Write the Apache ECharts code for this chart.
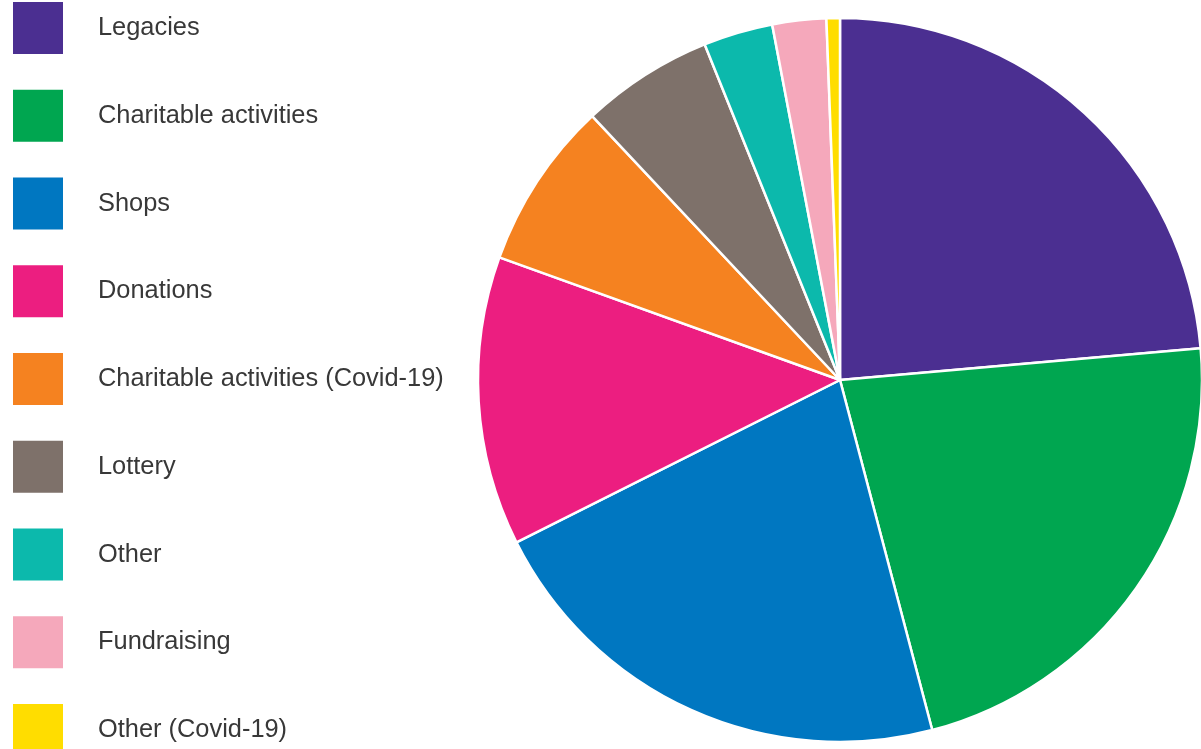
<!DOCTYPE html>
<html>
<head>
<meta charset="utf-8">
<script src="https://cdn.jsdelivr.net/npm/echarts@6/dist/echarts.min.js"></script>
<style>
html,body{margin:0;padding:0;background:#fff;}
#chart{width:1201px;height:749px;}
</style>
</head>
<body>
<div id="chart"></div>
<script>
var categories = ["Legacies","Charitable activities","Shops","Donations","Charitable activities (Covid-19)","Lottery","Other","Fundraising","Other (Covid-19)"];
var values = [23.6, 22.3, 21.7, 12.9, 7.5, 5.9, 3.1, 2.4, 0.6];
var colors = ["#4B2F91","#00A650","#0077C1","#EC1E80","#F58220","#7E716A","#0CB9AC","#F5A8BB","#FFDD00"];

var chart = echarts.init(document.getElementById('chart'), null, {renderer:'canvas'});
chart.setOption({
  animation: false,
  backgroundColor: '#ffffff',
  color: colors,
  legend: {
    orient: 'vertical',
    left: 13,
    top: 2,
    padding: 0,
    width: 600,
    height: 760,
    itemWidth: 50,
    itemHeight: 52,
    itemGap: 35.75,
    icon: 'rect',
    selectedMode: false,
    itemStyle: {borderWidth: 0},
    data: categories,
    textStyle: {
      fontFamily: 'Liberation Sans, Arial, sans-serif',
      fontSize: 25.4,
      color: '#383838',
      padding: [8,0,0,30]
    }
  },
  series: [{
    type: 'pie',
    center: [840, 380],
    radius: 362,
    startAngle: 90,
    clockwise: true,
    label: {show: false},
    labelLine: {show: false},
    emphasis: {disabled: true},
    itemStyle: {borderColor: '#ffffff', borderWidth: 2.5},
    data: categories.map(function(c, i){ return {name: c, value: values[i]}; })
  }]
});
</script>
</body>
</html>
